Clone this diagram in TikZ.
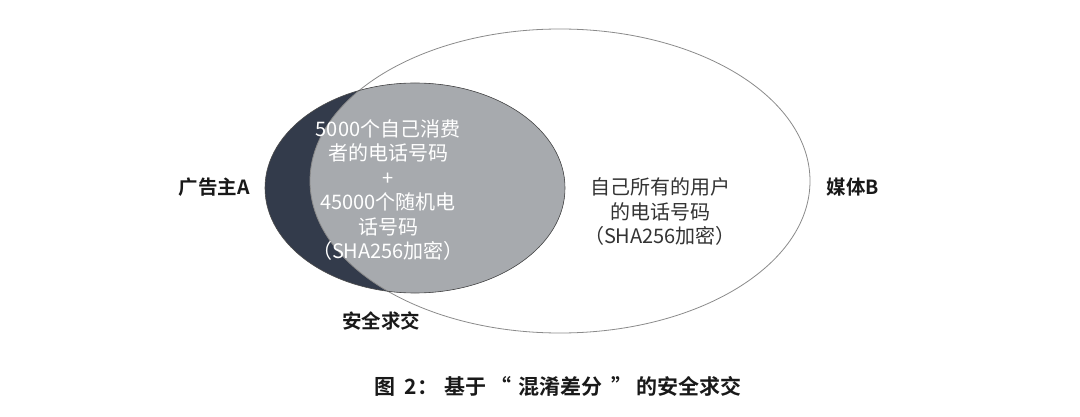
\documentclass[tikz,border=0pt]{standalone}
\usepackage{fontspec}
\setmainfont{Noto Sans CJK SC}
\newfontfamily\cjkb{Noto Sans CJK SC Bold}
\usetikzlibrary{shapes.geometric}
\definecolor{darkell}{HTML}{333B4B}
\definecolor{grayell}{HTML}{A7AAAE}
\definecolor{outl}{HTML}{8A8A8A}
\definecolor{txt}{HTML}{333333}
\tikzset{
  inner/.style={align=center, font=\fontsize{20}{24.5}\selectfont, inner sep=0pt},
  lbl/.style={font=\cjkb\fontsize{19.5}{22}\selectfont, text=black!90, inner sep=0pt},
  caplbl/.style={font=\cjkb\fontsize{21}{24}\selectfont, text=black!90, inner sep=0pt},
}
\begin{document}
\begin{tikzpicture}[x=1pt,y=-1pt]
\useasboundingbox (0,0) rectangle (1080,417);
% left ellipse (A)
\fill[darkell] (415,188) ellipse [x radius=150, y radius=105];
\begin{scope}
  \clip (415,188) ellipse [x radius=150, y radius=105];
  \fill[grayell] (560,181) ellipse [x radius=250, y radius=152];
\end{scope}
\draw[outl, line width=0.8pt] (560,181) ellipse [x radius=250, y radius=152];
\draw[black!70, line width=0.6pt] (415,188) ellipse [x radius=150, y radius=105];
% texts
\node[inner, text=white] (tA) at (388,190) {5000个自己消费\\者的电话号码\\+\\45000个随机电\\话号码\\（SHA256加密）};
\node[inner, text=txt] (tB) at (660,212) {自己所有的用户\\的电话号码\\（SHA256加密）};
\node[lbl] (lA) at (214,187) {广告主A};
\node[lbl] (lB) at (853,187) {媒体B};
\node[lbl] (lI) at (381,321) {安全求交};
\node[caplbl] (cap) at (558,386) {图\hspace{9pt}2：\hspace{6pt}基于\hspace{4pt}“\hspace{7pt}混淆差分\hspace{9pt}”\hspace{4pt}的安全求交};
\end{tikzpicture}
\end{document}
